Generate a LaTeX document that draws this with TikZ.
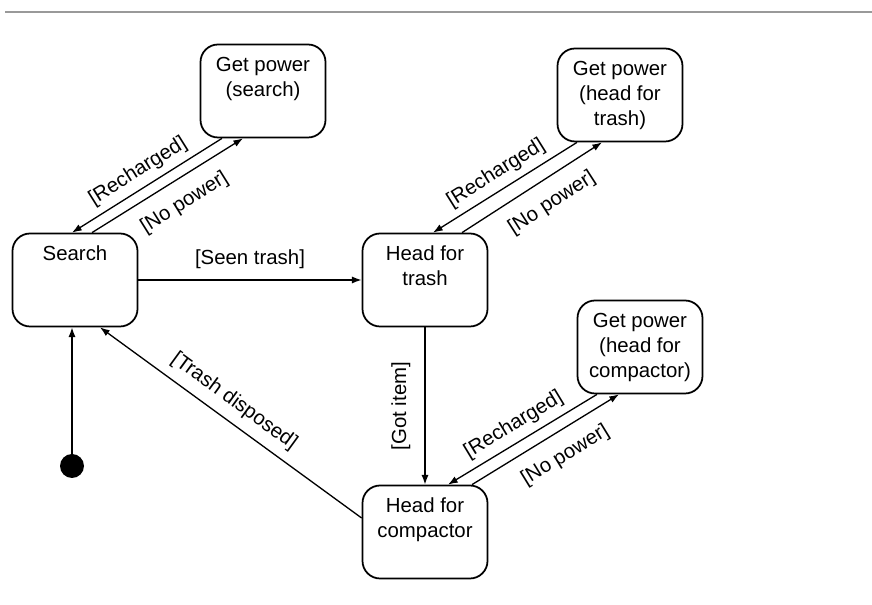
\documentclass[tikz,border=0pt]{standalone}
\usepackage{fontspec}
\setmainfont{Liberation Sans}
\usetikzlibrary{arrows.meta,shapes}
\newcommand{\statelines}[1]{\begin{tabular}[t]{@{}c@{}}#1\end{tabular}}

\begin{document}
\begin{tikzpicture}[font=\fontsize{11.6}{14.2}\selectfont]
    \useasboundingbox (0,0) rectangle (17.44,12.1);
    \draw[black!40, line width=1.6pt] (0.1,11.86) -- (17.44,11.86);
    \begin{scope}[every node/.style={rectangle,rounded corners=10pt,draw,line width=1pt,
        minimum width=2.5cm,minimum height=1.86cm,inner sep=3pt,text height=12.6pt,text depth=34.3pt}]
      \node (search)       at (1.5,6.5)    {Search};
      \node (getsearch)    at (5.26,10.28) {\statelines{Get power\\(search)}};
      \node (trash)        at (8.5,6.5)    {\statelines{Head for\\trash}};
      \node (gettrash)     at (12.4,10.2)  {\statelines{Get power\\(head for\\trash)}};
      \node (compactor)    at (8.5,1.46)   {\statelines{Head for\\compactor}};
      \node (getcompactor) at (12.8,5.16)  {\statelines{Get power\\(head for\\compactor)}};
    \end{scope}
    \node[circle,fill=black,inner sep=0pt,minimum size=0.48cm] (start) at (1.44,2.78) {};
    \begin{scope}[>={Latex[length=5.5pt,width=4pt]},every edge/.style={draw=black,line width=0.75pt}]
      \path[->] (start) edge (start |- search.south);
      \path[->] (search) edge node[above=2.8pt] {[Seen trash]} (trash);
      \path[->] (trash) edge node[midway,rotate=90,anchor=south,inner sep=8pt] {[Got item]} (compactor);
      \path[->] ([yshift=0.28cm]compactor.west) edge node[sloped,above=1.7pt,pos=0.53] {[Trash disposed]} ([xshift=0.5cm]search.south);
      % recharging loops
      \path[->] ([xshift=-0.82cm]getsearch.south) edge node[sloped,above=0.5pt] {[Recharged]} ([xshift=-0.06cm]search.north);
      \path[->] ([xshift=0.34cm]search.north) edge node[sloped,below=4.5pt,pos=0.53] {[No power]} ([xshift=-0.4cm]getsearch.south);
      \path[->] ([xshift=-0.86cm]gettrash.south) edge node[sloped,above=0.5pt] {[Recharged]} ([xshift=0.16cm]trash.north);
      \path[->] ([xshift=0.74cm]trash.north) edge node[sloped,below=4.5pt,pos=0.55] {[No power]} ([xshift=-0.36cm]gettrash.south);
      \path[->] ([xshift=-0.86cm]getcompactor.south) edge node[sloped,above=0.5pt] {[Recharged]} ([xshift=0.46cm]compactor.north);
      \path[->] ([xshift=0.94cm]compactor.north) edge node[sloped,below=4.5pt,pos=0.55] {[No power]} ([xshift=-0.42cm]getcompactor.south);
    \end{scope}
\end{tikzpicture}
\end{document}
